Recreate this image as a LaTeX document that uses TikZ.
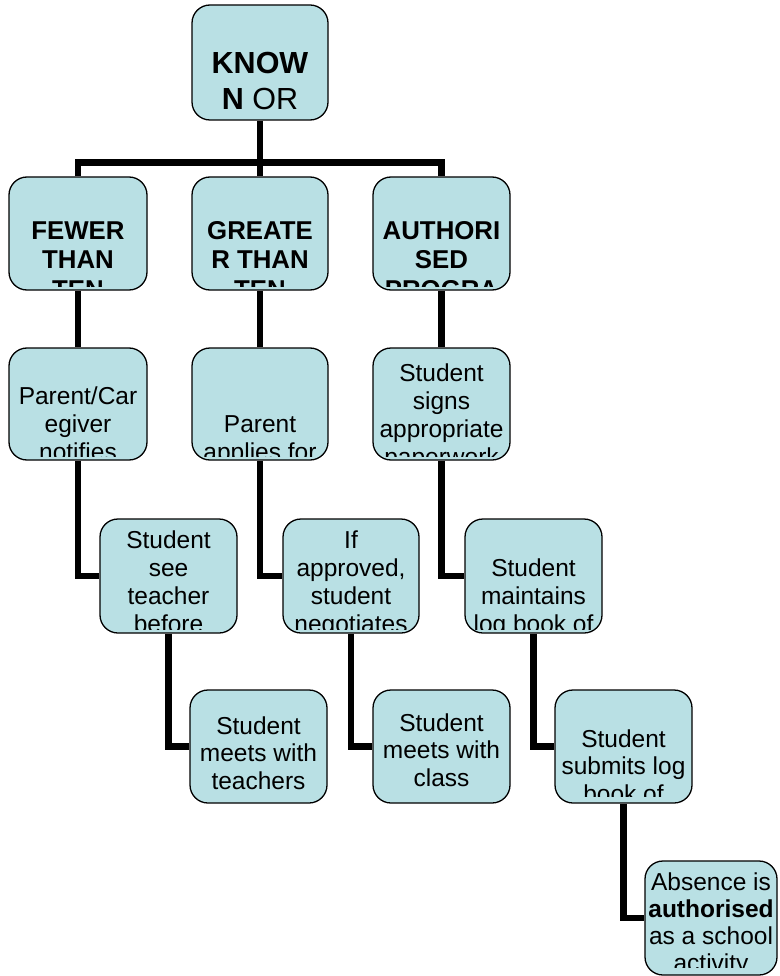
\documentclass[tikz,border=0pt]{standalone}
\usepackage{fontspec}
\setmainfont{Liberation Sans}
\usetikzlibrary{backgrounds,fit}
\definecolor{boxfill}{RGB}{185,224,228}
\tikzset{
  tbox/.style={draw=black, line width=1.3pt, fill=boxfill, rounded corners=18pt, inner sep=0pt},
  conn/.style={line width=6.3pt, draw=black},
  txt/.style={anchor=base, inner sep=0pt, font=\fontsize{24.5}{28}\selectfont},
  btxt/.style={anchor=base, inner sep=0pt, font=\fontsize{25.8}{30}\selectfont\bfseries},
  ttxt/.style={anchor=base, inner sep=0pt, font=\fontsize{30.5}{37}\selectfont},
}
% #1 name, #2 x1, #3 y1, #4 x2, #5 y2
\newcommand\mkbox[5]{\node[tbox, fit={(#2,#3) (#4,#5)}] (#1) {};}
% [#1 bottom inset] #2 name, #3 style, #4 cx, #5 first baseline, #6 spacing, #7 lines
\newcommand\boxlines[7][4pt]{%
  \begin{scope}
    \clip (#2.north west) rectangle ([yshift=#1]#2.south east);
    \foreach \lin [count=\i from 0] in {#7}
      \node[#3] (#2-\i) at (#4, #5+\i*#6) {\lin};
  \end{scope}}
\begin{document}
\begin{tikzpicture}[x=1pt, y=-1pt]
\useasboundingbox (0,0) rectangle (779,976);
% boxes
\mkbox{top}{192}{5}{328}{120}
\mkbox{l1a}{9}{177}{147}{290}
\mkbox{l1b}{192}{177}{328}{290}
\mkbox{l1c}{373}{177}{510}{290}
\mkbox{l2a}{9}{348}{147}{460}
\mkbox{l2b}{192}{348}{328}{460}
\mkbox{l2c}{373}{348}{510}{460}
\mkbox{l3a}{100}{519}{237}{633}
\mkbox{l3b}{283}{519}{419}{633}
\mkbox{l3c}{465}{519}{602}{633}
\mkbox{l4a}{190}{690}{327}{803}
\mkbox{l4b}{373}{690}{510}{803}
\mkbox{l4c}{555}{690}{692}{803}
\mkbox{l5}{645}{861}{777}{975}
% texts
\boxlines{top}{ttxt}{260}{74}{36}{{\textbf{KNOW}},{\textbf{N} OR}}
\boxlines{l1a}{btxt}{78}{240}{29}{FEWER,THAN,TEN}
\boxlines{l1b}{btxt}{260}{240}{29}{GREATE,R THAN,TEN}
\boxlines{l1c}{btxt}{441.5}{240}{29}{AUTHORI,SED,PROGRA}
\boxlines{l2a}{txt}{78}{404}{28}{Parent/Car,egiver,notifies}
\boxlines{l2b}{txt}{260}{432}{28}{Parent,applies for}
\boxlines{l2c}{txt}{441.5}{381}{28}{Student,signs,appropriate,paperwork}
\boxlines{l3a}{txt}{168.5}{548}{28}{Student,see,teacher,before}
\boxlines{l3b}{txt}{351}{548}{28}{If,{approved,},student,negotiates}
\boxlines{l3c}{txt}{533.5}{576}{28}{Student,maintains,log book of}
\boxlines{l4a}{txt}{258.5}{734}{27.5}{Student,meets with,teachers}
\boxlines{l4b}{txt}{441.5}{731}{27.5}{Student,meets with,class}
\boxlines[7pt]{l4c}{txt}{623.5}{747}{27.5}{Student,submits log,book of}
\boxlines[8pt]{l5}{txt}{711}{890}{27}{Absence is,{\textbf{authorised}},as a school,activity}
% connectors
\begin{pgfonlayer}{background}
\coordinate (bar) at (260,162.5);
\draw[conn] (top.south) -- (bar);
\draw[conn] (l1a.north) |- (bar) -| (l1c.north);
\draw[conn] (bar) -- (l1b.north);
\draw[conn] (l1a.south) -- (l2a.north);
\draw[conn] (l1b.south) -- (l2b.north);
\draw[conn] (l1c.south) -- (l2c.north);
\draw[conn] (l2a.south) |- (l3a.west);
\draw[conn] (l2b.south) |- (l3b.west);
\draw[conn] (l2c.south) |- (l3c.west);
\draw[conn] (l3a.south) |- (l4a.west);
\draw[conn] (l3b.south) |- (l4b.west);
\draw[conn] (l3c.south) |- (l4c.west);
\draw[conn] (l4c.south) |- (l5.west);
\end{pgfonlayer}
\end{tikzpicture}
\end{document}
